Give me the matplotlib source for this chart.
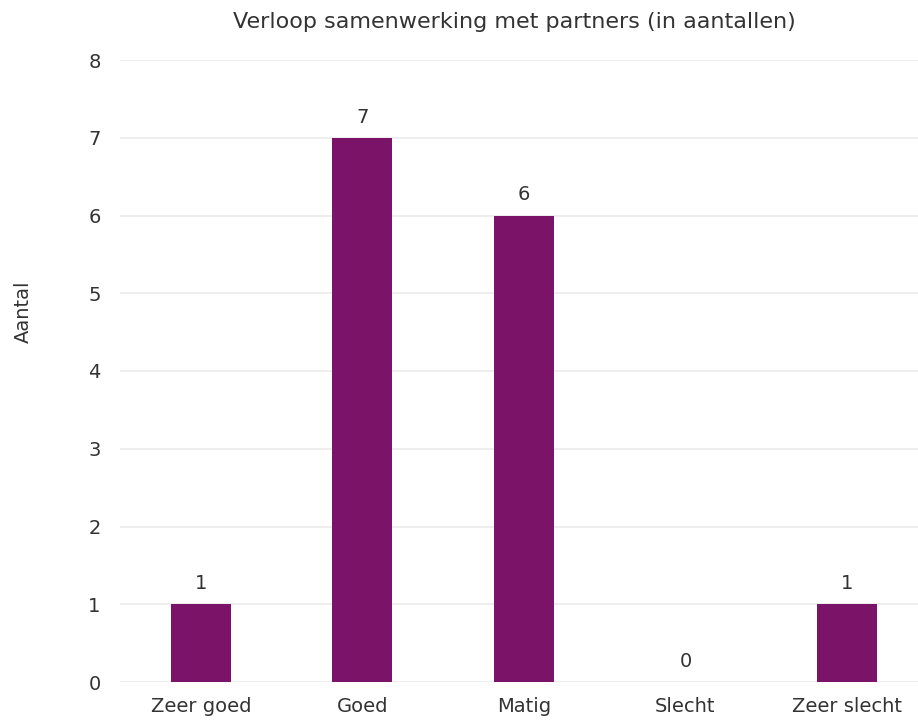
import numpy as np
import matplotlib
matplotlib.use("Agg")
import matplotlib.pyplot as plt

# --- data ---
categories = ["Zeer goed", "Goed", "Matig", "Slecht", "Zeer slecht"]
counts = [1, 7, 6, 0, 1]
yticks = [0, 1, 2, 3, 4, 5, 6, 7, 8]

bar_color = "#7b1468"
text_color = "#333333"
grid_color = "#ebebeb"

plt.rcParams["font.family"] = ["DejaVu Sans"]

W, H = 918, 721
fig = plt.figure(figsize=(W / 100, H / 100), dpi=100)
# axes placed in pixel terms (left, bottom, width, height)
ax = fig.add_axes([120 / W, (H - 682) / H, 798 / W, (682 - 60) / H])

x = np.arange(len(categories))
bars = ax.bar(x, counts, width=0.37, color=bar_color, zorder=3)

for xi, v in zip(x, counts):
    ax.annotate(f"{v}", (xi, v), xytext=(0, 8), textcoords="offset points",
                ha="center", va="bottom", fontsize=14, color=text_color)

ax.set_xlim(-0.5, 4.44)
ax.set_ylim(0, 8)
ax.set_yticks(yticks)
ax.set_xticks(x)
ax.set_xticklabels(categories)
ax.tick_params(axis="both", length=0, labelsize=14, colors=text_color)
ax.tick_params(axis="y", pad=14)
ax.tick_params(axis="x", pad=11)
ax.grid(axis="y", color=grid_color, lw=1.2, zorder=0)
for s in ax.spines.values():
    s.set_visible(False)

fig.text(23 / W, 1 - 312 / H, "Aantal", rotation=90, ha="center", va="center",
         fontsize=14, color=text_color)
fig.text(514 / W, 1 - 22 / H, "Verloop samenwerking met partners (in aantallen)",
         ha="center", va="center", fontsize=16, color=text_color)

fig.savefig("out.png", dpi=100)
